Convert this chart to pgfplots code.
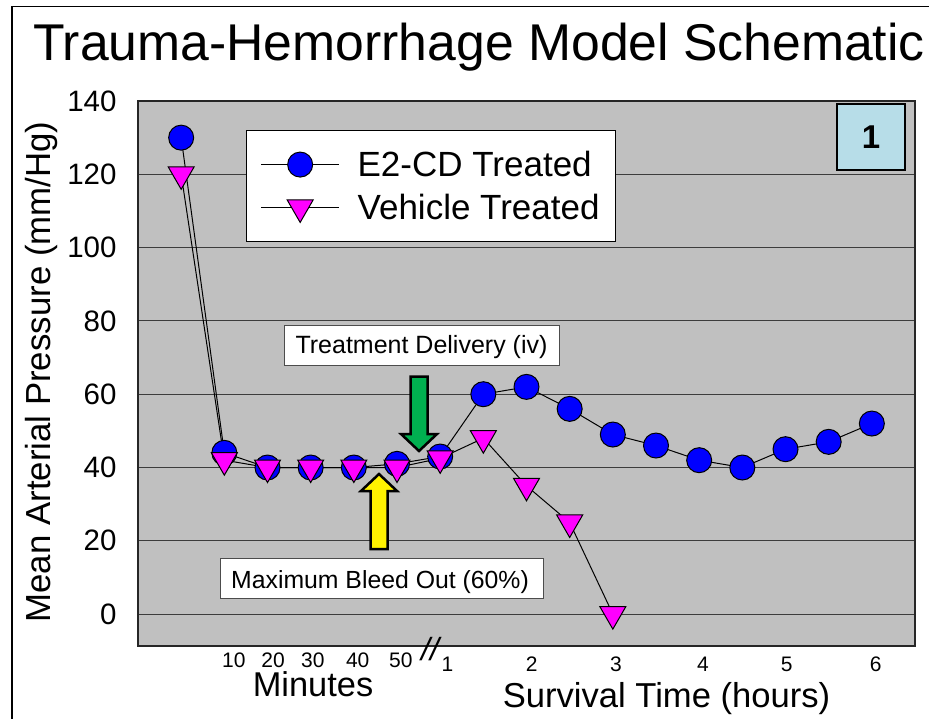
\documentclass[border=0pt]{standalone}
\usepackage{pgfplots}
\pgfplotsset{compat=1.18}
\usepackage{fontspec}
\setmainfont{Liberation Sans}
\newcommand{\fs}[1]{\fontsize{#1bp}{#1bp}\selectfont}
\definecolor{plotgray}{HTML}{C0C0C0}
\definecolor{gridc}{HTML}{3C3C3C}
\definecolor{boxblue}{HTML}{B7DDE8}
\definecolor{arrowgreen}{HTML}{00B050}
\definecolor{markmag}{HTML}{FF00FF}
\pgfplotstableread{
x y
0 130
1 44
2 40
3 40
4 40
5 41
6 43
7 60
8 62
9 56
10 49
11 46
12 42
13 40
14 45
15 47
16 52
}\treated
\pgfplotstableread{
x y
0 120
1 42
2 40
3 40
4 40
5 40
6 42.5
7 48
8 35
9 25
10 0
}\vehicle
\begin{document}
\begin{tikzpicture}[x=1bp,y=-1bp]
\path[use as bounding box] (0,0) rectangle (929,719);
\draw[line width=1.5bp] (12,719) -- (12,6.5) -- (929,6.5);
\begin{axis}[
  at={(138bp,-646bp)}, anchor=south west,
  scale only axis, width=777bp, height=545bp,
  xmin=-1, xmax=17, ymin=-8.7, ymax=140,
  axis background/.style={fill=plotgray},
  axis line style={line width=1.3bp, draw=black!85},
  ytick={0,20,...,140},
  ymajorgrids, grid style={line width=1bp, draw=gridc},
  tick style={line width=1bp, draw=gridc},
  major tick length=8bp,
  xtick={1.22,2.13,3.05,4.09,5.09},
  xticklabels={10,20,30,40,50},
  extra x ticks={6.17,8.12,10.07,12.09,14.03,16.09},
  extra x tick labels={1,2,3,4,5,6},
  extra x tick style={xticklabel style={yshift=-4bp}},
  x tick style={draw=none},
  x tick label style={font=\fs{21}, inner sep=0pt, yshift=-6.5bp},
  y tick label style={font=\fs{29.5}, xshift=-18bp},
  /pgf/number format/assume math mode=true,
  clip=false,
  legend style={at={(108bp,516bp)}, anchor=north west, draw=black, line width=1.3bp,
     font=\fs{35}, inner xsep=14bp, inner ysep=18.5bp, row sep=12bp, fill=white},
  legend cell align=left,
  legend image code/.code={
    \draw[line width=1bp,black] (0bp,0bp) -- (78bp,0bp);
    \path (94bp,0bp);
    \draw[#1,mark repeat=1] plot coordinates {(39bp,0bp)};
  },
]
\addplot[line width=1bp, black, mark=*, mark size=12.5bp, mark options={fill=blue, draw=black, line width=1bp}] table[x=x,y=y] {\treated};
\addlegendentry{E2-CD Treated}
\addplot[line width=1bp, black, mark=triangle*, mark size=15bp, mark options={rotate=180, fill=markmag, draw=black, line width=1bp}] table[x=x,y=y] {\vehicle};
\addlegendentry{Vehicle Treated}
\end{axis}
\node[rotate=90, font=\fs{34.8}] at (42,372) {Mean Arterial Pressure (mm/Hg)};
% value box
\node[draw=black, line width=2bp, fill=boxblue, minimum width=68bp, minimum height=66bp, inner sep=0pt, font=\fs{33}\bfseries] at (871,137) {1};
% annotations
\draw[black!70, line width=0.6bp, fill=white] (284,325) rectangle (559,365);
\node[font=\fs{25}] at (421.5,347) {Treatment Delivery (iv)};
\draw[black!70, line width=0.6bp, fill=white] (220,558) rectangle (543,598);
\node[font=\fs{24.8}] at (380,582.5) {Maximum Bleed Out (60\%)};
\draw[line width=2.5bp, black, fill=arrowgreen, line join=miter] (410.5,376.5) -- (427.5,376.5) -- (427.5,434) -- (437,434) -- (419,451) -- (401,434) -- (410.5,434) -- cycle;
\draw[line width=2.5bp, black, fill=yellow, line join=miter] (370.5,549) -- (387.5,549) -- (387.5,491) -- (397,491) -- (379,474) -- (361,491) -- (370.5,491) -- cycle;
% axis break and group labels
\node[font=\fs{32}\itshape] at (430,649) {//};
\node[font=\fs{34.4}, anchor=base, inner sep=0pt] at (313,696) {Minutes};
\node[font=\fs{34.6}, anchor=base, inner sep=0pt] at (666.5,707) {Survival Time (hours)};
\node[font=\fs{51.7}, anchor=base] at (479,60.5) {Trauma-Hemorrhage Model Schematic};
\end{tikzpicture}
\end{document}
